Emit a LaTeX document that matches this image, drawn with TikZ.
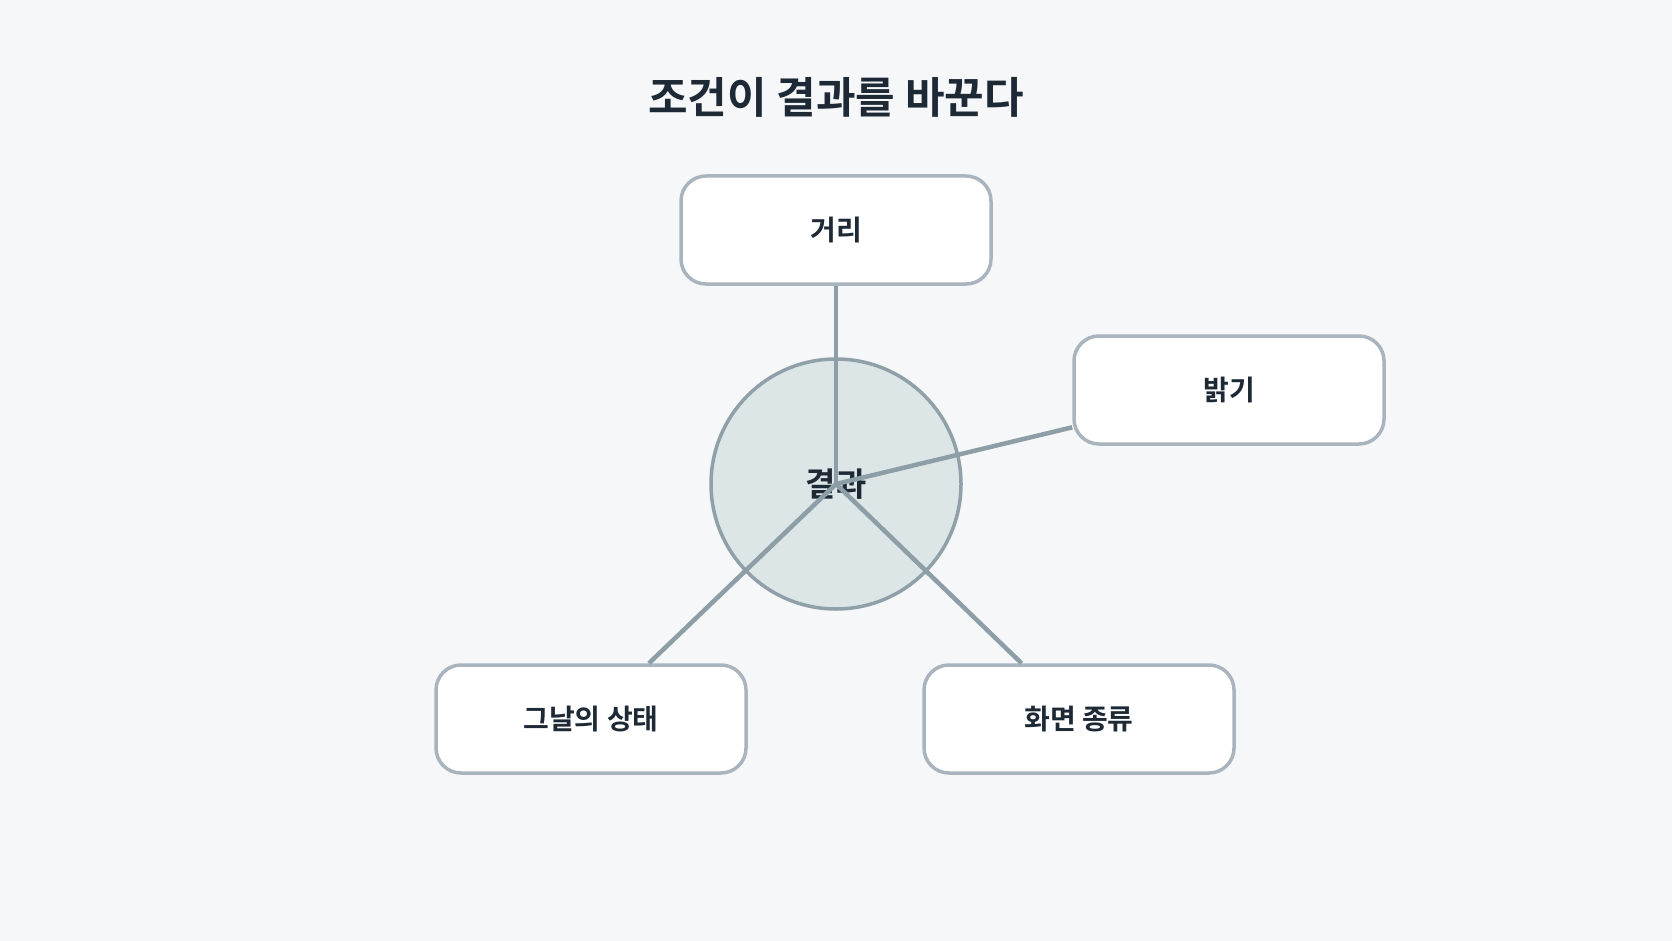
\documentclass[tikz,border=0pt]{standalone}
\usepackage{fontspec}
\setmainfont{Noto Sans CJK KR}
\newfontfamily\krb{Noto Sans CJK KR Bold}
\definecolor{bgc}{HTML}{F5F7F9}
\definecolor{boxline}{HTML}{A9B4BE}
\definecolor{circfill}{HTML}{DCE6E6}
\definecolor{circline}{HTML}{8FA0A8}
\definecolor{conn}{HTML}{8E9EA6}
\definecolor{txt}{HTML}{1E2936}
\tikzset{
  factor/.style={draw=boxline, line width=3.5pt, fill=white, rounded corners=25pt,
    minimum width=310pt, minimum height=108pt, inner sep=0pt, text=txt,
    font=\krb\fontsize{28}{32}\selectfont},
  hub/.style={circle, draw=circline, line width=3.5pt, fill=circfill, minimum size=250pt,
    inner sep=0pt, text=txt, font=\krb\fontsize{33}{38}\selectfont},
  link/.style={draw=conn, line width=4.5pt},
  titletext/.style={text=txt, font=\krb\fontsize{43}{50}\selectfont}
}
\begin{document}
\begin{tikzpicture}[x=1pt,y=-1pt]
\fill[bgc] (0,0) rectangle (1672,941);
\useasboundingbox (0,0) rectangle (1672,941);
\node[titletext] (title) at (836,97) {조건이 결과를 바꾼다};
\node[hub] (c) at (836,484) {결과};
\node[factor] (dist) at (836,230) {거리};
\node[factor] (bright) at (1229,390) {밝기};
\node[factor] (day) at (591,719) {그날의 상태};
\node[factor] (screen) at (1079,719) {화면 종류};
\draw[link] (c.center) -- (dist);
\draw[link] (c.center) -- (bright);
\draw[link] (c.center) -- (day);
\draw[link] (c.center) -- (screen);
\end{tikzpicture}
\end{document}
